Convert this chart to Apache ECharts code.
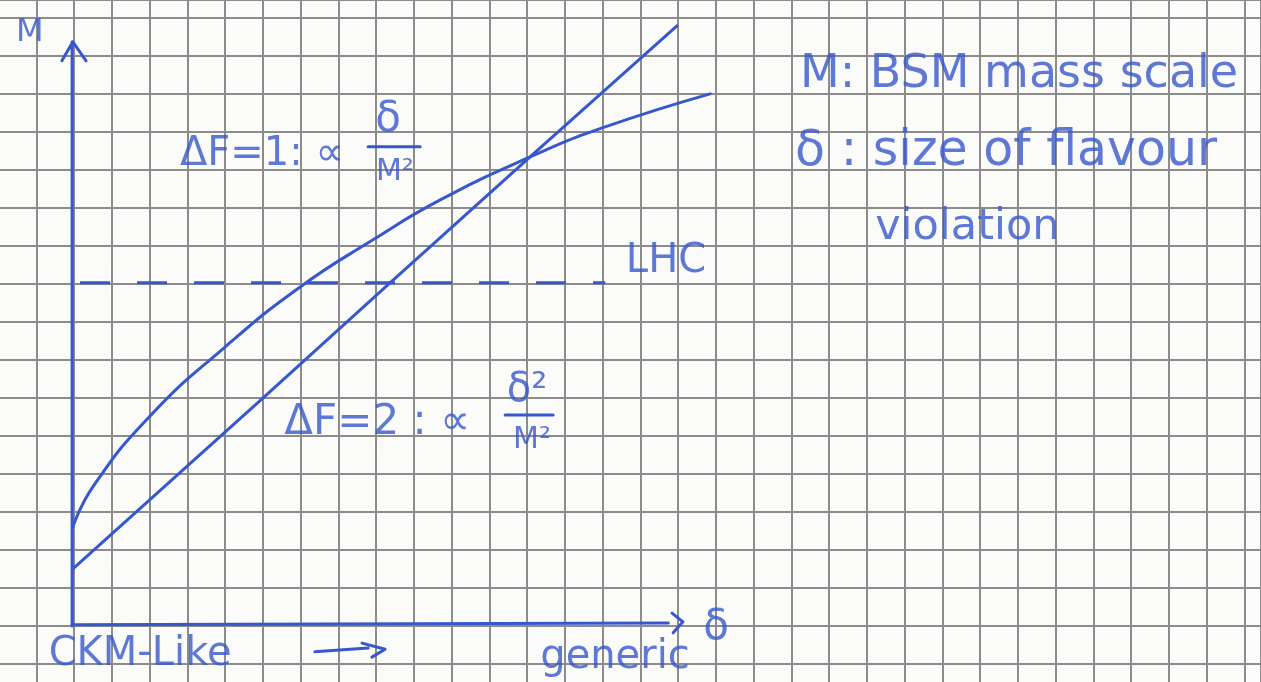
<!DOCTYPE html>
<html>
<head>
<meta charset="utf-8">
<script src="https://cdn.jsdelivr.net/npm/echarts@6/dist/echarts.min.js"></script>
<style>
  html, body { margin: 0; padding: 0; background: #fbfbfa; }
  #chart { width: 1261px; height: 682px; }
</style>
</head>
<body>
<div id="chart"></div>
<script>
// units: one square of the paper; origin at the drawn axes corner
// ΔF=2 line (δ²/M²)
const df2Line = [[-0.03, 1.5], [5.01, 6.0], [8.37, 9.03], [12.08, 12.34], [15.97, 15.79]];
// ΔF=1 curve (δ/M²)
const df1Curve = [
  [-0.03, 2.61], [0.5, 3.66], [1.99, 5.5], [4.0, 7.34], [5.99, 8.92], [7.92, 10.16],
  [9.7, 11.21], [12.08, 12.34], [14.01, 13.11], [16.85, 14.0]
];
// LHC reach
const lhcLine = [[0.16, 9.03], [14.07, 9.03]];

// hand-drawn axes and arrows (null breaks the stroke)
const axisM = [[-0.05, 0.0], [-0.05, 15.37], null, [-0.32, 14.87], [-0.03, 15.37], [0.32, 14.87]];
const axisDelta = [[-0.05, 0.03], [15.74, 0.08], null, [15.84, 0.34], [16.13, 0.11], [15.87, -0.18]];
const arrowBelow = [[6.38, -0.68], [7.79, -0.58], null, [7.63, -0.45], [8.24, -0.61], [7.89, -0.82]];
const fractionBars = [[7.79, 12.61], [9.17, 12.61], null, [11.42, 5.55], [12.69, 5.55]];

// annotation texts and anchors
const noteText = ['M', 'ΔF=1: ∝', 'δ', 'M²', 'ΔF=2 : ∝', 'δ²', 'M²', 'LHC', 'CKM-Like', 'generic', 'δ',
  'M: BSM mass scale', 'δ : size of flavour', 'violation'];
const noteX = [-1.17, 4.98, 8.32, 8.5, 8.03, 12.0, 12.13, 15.68, 1.75, 14.33, 17.01, 19.23, 19.1, 21.22];
const noteY = [15.61, 12.39, 13.32, 11.95, 5.34, 6.18, 4.89, 9.58, -0.76, -0.84, -0.05, 14.5, 12.47, 10.47];

const ink = '#3757cc';
const paper = '#8c8c8c';
const font = '"DejaVu Sans", sans-serif';
const noteSize = [32, 40, 42, 30, 42, 40, 30, 40, 40, 40, 42, 46, 49, 43];
const noteAlign = ['center', 'center', 'center', 'center', 'center', 'center', 'center', 'center',
  'center', 'center', 'center', 'left', 'left', 'left'];

function stroke(name, data, extra) {
  return Object.assign({
    name: name,
    type: 'line',
    data: data,
    symbol: 'none',
    connectNulls: false,
    silent: true,
    lineStyle: { color: ink, width: 3, cap: 'round', join: 'round' },
    z: 5
  }, extra || {});
}

function hiddenAxis(extra) {
  return Object.assign({
    type: 'value', interval: 1,
    axisLine: { show: false }, axisTick: { show: false }, axisLabel: { show: false },
    splitLine: { show: false }
  }, extra);
}
const gridLine = { show: true, lineStyle: { color: paper, width: 2 } };

const chart = echarts.init(document.getElementById('chart'));
chart.setOption({
  backgroundColor: '#fbfbfa',
  animation: false,
  grid: [
    { left: 36.25, right: 0, top: 0, bottom: 18 },   // data
    { left: 36.25, right: 0, top: 0, bottom: 0 },    // vertical paper lines
    { left: 0, right: 0, top: 0, bottom: 18 }        // horizontal paper lines
  ],
  xAxis: [
    hiddenAxis({ gridIndex: 0, min: -1, max: 31.44 }),
    hiddenAxis({ gridIndex: 1, min: -1, max: 31.44, splitLine: gridLine }),
    hiddenAxis({ gridIndex: 2, min: 0, max: 1 })
  ],
  yAxis: [
    hiddenAxis({ gridIndex: 0, min: -1, max: 16.47 }),
    hiddenAxis({ gridIndex: 1, min: 0, max: 1 }),
    hiddenAxis({ gridIndex: 2, min: -1, max: 16.47, splitLine: gridLine })
  ],
  series: [
    stroke('axisM', axisM),
    stroke('axisDelta', axisDelta),
    stroke('ΔF=2', df2Line),
    stroke('ΔF=1', df1Curve, { smooth: 0.5 }),
    stroke('LHC', lhcLine, { lineStyle: { color: ink, width: 3, type: [30, 27] } }),
    stroke('arrow', arrowBelow),
    stroke('bars', fractionBars),
    {
      name: 'notes',
      type: 'scatter',
      symbolSize: 0,
      silent: true,
      clip: false,
      z: 6,
      data: noteText.map((t, i) => ({
        value: [noteX[i], noteY[i]],
        name: t,
        label: {
          show: true,
          position: [0, 0],
          formatter: '{b}',
          align: noteAlign[i],
          verticalAlign: 'middle',
          color: ink,
          fontFamily: font,
          fontSize: noteSize[i]
        }
      }))
    }
  ]
});
</script>
</body>
</html>
